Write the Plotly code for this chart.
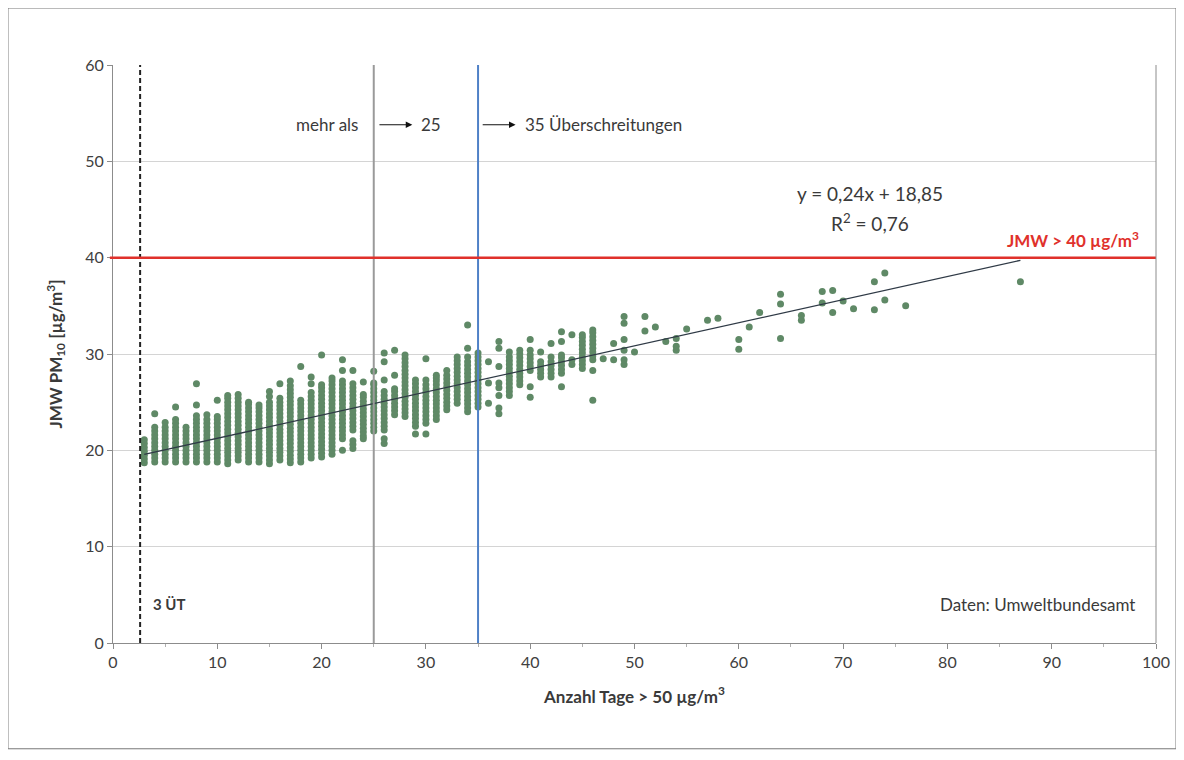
import plotly.graph_objects as go

# ---------------- data ----------------
days = [3, 4, 5, 6, 7, 8, 9, 10, 11, 12, 13, 14, 15, 16, 17, 18, 19, 20, 21, 22, 23, 24, 25, 26, 27, 28, 29, 30,
        31, 32, 33, 34, 35, 36, 37, 38, 39, 40, 41, 42, 43, 44, 45, 46, 47, 48, 49, 50, 51, 52, 53, 54, 55,
        57, 58, 60, 61, 62, 64, 66, 68, 69, 70, 71, 73, 74, 76, 87]

jmw = [
    [18.7, 19.1, 19.5, 19.9, 20.3, 20.7, 21.1],                                             # 3
    [18.8, 19.2, 19.6, 20.0, 20.4, 20.8, 21.2, 21.6, 22.0, 22.4, 23.8],                     # 4
    [18.8, 19.2, 19.6, 20.0, 20.4, 20.8, 21.2, 21.6, 22.0, 22.4, 22.9],                     # 5
    [18.8, 19.2, 19.6, 20.0, 20.4, 20.8, 21.2, 21.6, 22.0, 22.4, 22.8, 23.2, 24.5],         # 6
    [18.8, 19.2, 19.6, 20.0, 20.4, 20.8, 21.2, 21.6, 22.0, 22.4],                           # 7
    [18.8, 19.2, 19.6, 20.0, 20.4, 20.8, 21.2, 21.6, 22.0, 22.4, 22.8, 23.2, 23.6, 24.7, 26.9],  # 8
    [18.8, 19.2, 19.6, 20.0, 20.4, 20.8, 21.2, 21.6, 22.0, 22.4, 22.8, 23.2, 23.7],         # 9
    [18.8, 19.2, 19.6, 20.0, 20.4, 20.8, 21.2, 21.6, 22.0, 22.4, 22.8, 23.2, 23.5, 25.2],   # 10
    [18.6, 19.0, 19.4, 19.8, 20.2, 20.6, 21.0, 21.4, 21.8, 22.2, 22.6, 23.0, 23.4, 23.8, 24.2, 24.6, 25.0, 25.4, 25.7],  # 11
    [19.0, 19.4, 19.8, 20.2, 20.6, 21.0, 21.4, 21.8, 22.2, 22.6, 23.0, 23.4, 23.8, 24.2, 24.6, 25.0, 25.4, 25.8],  # 12
    [18.8, 19.2, 19.6, 20.0, 20.4, 20.8, 21.2, 21.6, 22.0, 22.4, 22.8, 23.2, 23.6, 24.0, 24.4, 24.8, 25.0],  # 13
    [18.8, 19.2, 19.6, 20.0, 20.4, 20.8, 21.2, 21.6, 22.0, 22.4, 22.8, 23.2, 23.6, 24.0, 24.4, 24.7],  # 14
    [18.6, 19.0, 19.4, 19.8, 20.2, 20.6, 21.0, 21.4, 21.8, 22.2, 22.6, 23.0, 23.4, 23.8, 24.2, 24.6, 25.0, 25.6, 26.1],  # 15
    [19.0, 19.4, 19.8, 20.2, 20.6, 21.0, 21.4, 21.8, 22.2, 22.6, 23.0, 23.4, 23.8, 24.2, 24.6, 25.0, 25.4, 26.9],  # 16
    [18.7, 19.1, 19.5, 19.9, 20.3, 20.7, 21.1, 21.5, 21.9, 22.3, 22.7, 23.1, 23.5, 23.9, 24.3, 24.7, 25.1, 25.5,
     25.9, 26.3, 26.7, 27.2],                                                                 # 17
    [18.8, 19.2, 19.6, 20.0, 20.4, 20.8, 21.2, 21.6, 22.0, 22.4, 22.8, 23.2, 23.6, 24.0, 24.4, 24.8, 25.2, 28.7],  # 18
    [19.2, 19.6, 20.0, 20.4, 20.8, 21.2, 21.6, 22.0, 22.4, 22.8, 23.2, 23.6, 24.0, 24.4, 24.8, 25.2, 25.6, 26.0,
     26.9, 27.6],                                                                             # 19
    [19.3, 19.7, 20.1, 20.5, 20.9, 21.3, 21.7, 22.1, 22.5, 22.9, 23.3, 23.7, 24.1, 24.5, 24.9, 25.3, 25.7, 26.1,
     26.5, 26.8, 29.9],                                                                       # 20
    [19.6, 20.0, 20.4, 20.8, 21.2, 21.6, 22.0, 22.4, 22.8, 23.2, 23.6, 24.0, 24.4, 24.8, 25.2, 25.6, 26.0, 26.4,
     26.8, 27.2, 27.5],                                                                       # 21
    [20.0, 21.2, 21.6, 22.0, 22.4, 22.8, 23.2, 23.6, 24.0, 24.4, 24.8, 25.2, 25.6, 26.0, 26.4, 26.8, 27.2, 28.3, 29.4],  # 22
    [20.2, 20.6, 21.0, 22.1, 22.5, 22.9, 23.3, 23.7, 24.1, 24.5, 24.9, 25.3, 25.7, 26.1, 26.5, 26.9, 28.3],  # 23
    [21.2, 21.5, 21.9, 22.3, 22.7, 23.1, 23.5, 23.9, 24.3, 24.7, 25.1, 25.5, 25.8, 27.1],   # 24
    [22.0, 22.4, 22.8, 23.2, 23.6, 24.0, 24.4, 24.8, 25.2, 25.6, 26.0, 26.4, 26.8, 27.0, 28.2],  # 25
    [20.7, 21.2, 22.1, 22.5, 22.9, 23.3, 23.7, 24.1, 24.5, 24.9, 25.3, 25.7, 26.1, 27.3, 29.2, 30.1],  # 26
    [23.7, 24.1, 24.5, 24.9, 25.3, 25.7, 26.1, 26.4, 27.8, 30.4],                           # 27
    [23.5, 23.9, 24.3, 24.7, 25.1, 25.5, 25.9, 26.3, 26.7, 27.1, 27.5, 27.9, 28.3, 28.7, 29.1, 29.5, 29.9],  # 28
    [21.7, 22.5, 22.9, 23.3, 23.7, 24.1, 24.5, 24.9, 25.3, 25.7, 26.1, 26.5, 26.9, 27.3],   # 29
    [21.7, 22.8, 23.2, 23.6, 24.0, 24.4, 24.8, 25.2, 25.6, 26.0, 26.4, 26.8, 27.3, 29.5],   # 30
    [23.2, 23.6, 24.0, 24.4, 24.8, 25.2, 25.6, 26.0, 26.4, 26.8, 27.2, 27.5, 27.8],         # 31
    [24.2, 24.6, 25.0, 25.4, 25.8, 26.2, 26.6, 27.0, 27.4, 27.8, 28.3],                     # 32
    [24.9, 25.3, 25.7, 26.1, 26.5, 26.9, 27.3, 27.7, 28.1, 28.5, 28.9, 29.3, 29.7],         # 33
    [24.0, 24.4, 24.8, 25.2, 25.6, 26.0, 26.4, 26.8, 27.2, 27.6, 28.0, 28.4, 28.8, 29.2, 29.7, 30.6, 33.0],  # 34
    [24.5, 24.9, 25.3, 25.7, 26.1, 26.5, 26.9, 27.3, 27.7, 28.1, 28.5, 28.9, 29.3, 29.7, 30.1],  # 35
    [24.9, 27.0, 29.2],                                                                      # 36
    [23.8, 24.4, 25.7, 26.5, 27.0, 28.7, 30.6, 31.3],                                        # 37
    [25.7, 26.1, 26.5, 26.9, 27.3, 27.7, 28.1, 28.5, 28.9, 29.3, 29.7, 30.2],               # 38
    [26.8, 27.2, 27.6, 28.0, 28.4, 28.8, 29.2, 29.6, 30.0, 30.4],                           # 39
    [25.5, 26.6, 28.3, 28.7, 29.1, 29.5, 29.9, 30.4, 31.5],                                  # 40
    [27.6, 28.0, 28.4, 28.8, 29.2, 30.2],                                                    # 41
    [27.6, 28.0, 28.4, 28.8, 29.2, 29.7, 31.1],                                              # 42
    [26.6, 28.0, 28.4, 28.8, 29.2, 29.6, 29.9, 31.3, 32.3],                                  # 43
    [28.9, 29.4, 32.0],                                                                      # 44
    [28.5, 28.9, 29.3, 29.7, 30.1, 30.5, 30.9, 31.3, 31.7, 32.0],                           # 45
    [25.2, 28.3, 29.4, 29.8, 30.2, 30.6, 31.0, 31.4, 31.8, 32.2, 32.5],                     # 46
    [29.5],                                                                                  # 47
    [29.4, 31.1],                                                                            # 48
    [28.9, 29.4, 30.4, 31.5, 33.2, 33.9],                                                    # 49
    [30.2],                                                                                  # 50
    [32.4, 33.9],                                                                            # 51
    [32.8],                                                                                  # 52
    [31.3],                                                                                  # 53
    [30.4, 30.8, 31.6],                                                                      # 54
    [32.6],                                                                                  # 55
    [33.5],                                                                                  # 57
    [33.7],                                                                                  # 58
    [30.5, 31.5],                                                                            # 60
    [32.8],                                                                                  # 61
    [34.3],                                                                                  # 62
    [31.6, 35.2, 36.2],                                                                      # 64
    [33.5, 34.0],                                                                            # 66
    [35.3, 36.5],                                                                            # 68
    [34.3, 36.6],                                                                            # 69
    [35.5],                                                                                  # 70
    [34.7],                                                                                  # 71
    [34.6, 37.5],                                                                            # 73
    [35.6, 38.4],                                                                            # 74
    [35.0],                                                                                  # 76
    [37.5],                                                                                  # 87
]

trend_slope = 0.24
trend_intercept = 18.85
trend_x_range = [3, 87]

limit_jmw = 40          # horizontal red limit
ut_3 = 2.6              # "3 ÜT" dashed line
ut_25 = 25
ut_35 = 35

x_ticks = [0, 10, 20, 30, 40, 50, 60, 70, 80, 90, 100]
y_ticks = [0, 10, 20, 30, 40, 50, 60]

# ---------------- build ----------------
xs, ys = [], []
for d, col in zip(days, jmw):
    for v in col:
        xs.append(d)
        ys.append(v)

FONT = "Lato, 'Open Sans', sans-serif"
TXT = "#3a3a3a"

fig = go.Figure()

fig.add_trace(go.Scatter(
    x=xs, y=ys, mode="markers",
    marker=dict(size=7, color="#5f8966", line=dict(width=0)),
    showlegend=False, hoverinfo="x+y"))

tx = trend_x_range
fig.add_trace(go.Scatter(
    x=tx, y=[trend_slope * v + trend_intercept for v in tx], mode="lines",
    line=dict(color="#2f3a46", width=1.3), showlegend=False, hoverinfo="skip"))

# reference lines
fig.add_shape(type="line", xref="x", yref="y", x0=ut_3, x1=ut_3, y0=0, y1=60,
              line=dict(color="#222222", width=2, dash="5px,3px"))
fig.add_shape(type="line", xref="x", yref="y", x0=ut_25, x1=ut_25, y0=0, y1=60,
              line=dict(color="#9a9a9a", width=2))
fig.add_shape(type="line", xref="x", yref="y", x0=ut_35, x1=ut_35, y0=0, y1=60,
              line=dict(color="#4f81c7", width=2))
fig.add_shape(type="line", xref="paper", yref="y", x0=-0.003, x1=1, y0=limit_jmw, y1=limit_jmw,
              line=dict(color="#e0312b", width=2.5))
# right frame of plot area
fig.add_shape(type="line", xref="paper", yref="paper", x0=1, x1=1, y0=0, y1=1,
              line=dict(color="#8c8c8c", width=1))
# outer border around whole graphic
fig.add_shape(type="rect", xref="paper", yref="paper", x0=-0.1007, x1=1.0192, y0=-0.183, y1=1.0986,
              line=dict(color="#777777", width=1))

# arrows
fig.add_annotation(x=28.7, y=53.8, ax=25.4, ay=53.8, xref="x", yref="y", axref="x", ayref="y",
                   text="", showarrow=True, arrowhead=2, arrowsize=1.1, arrowwidth=1.2, arrowcolor="#111111")
fig.add_annotation(x=38.6, y=53.8, ax=35.3, ay=53.8, xref="x", yref="y", axref="x", ayref="y",
                   text="", showarrow=True, arrowhead=2, arrowsize=1.1, arrowwidth=1.2, arrowcolor="#111111")

def txt(x, y, s, anchor="center", size=14, color=TXT, bold=False):
    if bold:
        s = "<b>" + s + "</b>"
    fig.add_annotation(x=x, y=y, xref="x", yref="y", text=s, showarrow=False,
                       xanchor=anchor, yanchor="middle",
                       font=dict(family=FONT, size=size, color=color))

txt(23.7, 53.8, "mehr als", anchor="right", size=17)
txt(29.3, 53.8, "25", anchor="left", size=17)
txt(39.3, 53.8, "35 Überschreitungen", anchor="left", size=17)
txt(72.6, 46.7, "y = 0,24x + 18,85", size=19)
txt(72.6, 43.6, "R<sup>2</sup> = 0,76", size=19)
txt(98.6, 41.9, "JMW > 40 µg/m<sup>3</sup>", anchor="right", size=17, color="#e0312b", bold=True)
txt(3.6, 4.0, "3 ÜT", anchor="left", size=15, bold=True)
txt(98.2, 4.0, "Daten: Umweltbundesamt", anchor="right", size=17)

fig.update_layout(
    width=1184, height=760,
    margin=dict(l=105, r=36, t=57, b=125),
    paper_bgcolor="white", plot_bgcolor="white",
    font=dict(family=FONT, size=16, color=TXT),
    xaxis=dict(range=[0, 100], tickvals=x_ticks, showgrid=False, zeroline=False,
               showline=True, linecolor="#8c8c8c", linewidth=1,
               ticks="outside", ticklen=5, tickcolor="#8c8c8c",
               minor=dict(ticks="outside", ticklen=3, dtick=5, tickcolor="#b0b0b0"),
               tickfont=dict(size=16, color="#404040"),
               title=dict(text="<b>Anzahl Tage > 50 µg/m<sup>3</sup></b>", standoff=20,
                          font=dict(size=17, color=TXT))),
    yaxis=dict(range=[0, 60], tickvals=y_ticks, showgrid=True, gridcolor="#d4d4d4", gridwidth=1,
               zeroline=False, showline=True, linecolor="#8c8c8c", linewidth=1,
               ticks="outside", ticklen=5, tickcolor="#8c8c8c",
               tickfont=dict(size=16, color="#404040"),
               title=dict(text="<b>JMW PM<sub>10</sub> [µg/m<sup>3</sup>]</b>", standoff=18,
                          font=dict(size=17, color=TXT))),
)

fig.write_html("out.html")
